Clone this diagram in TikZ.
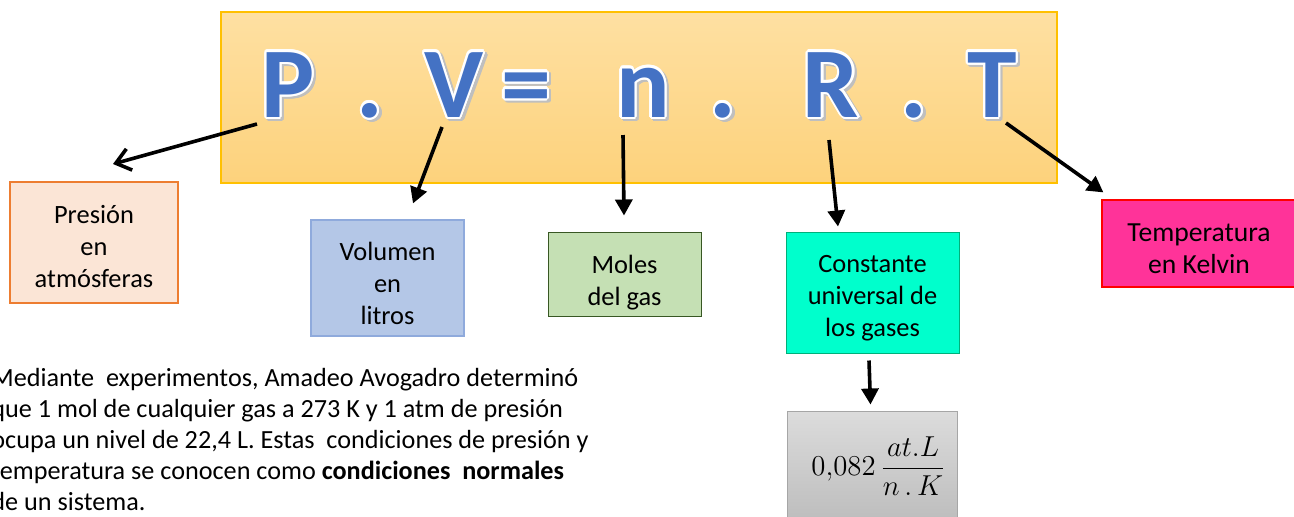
\documentclass[tikz,border=0pt]{standalone}
\usepackage{fontspec}
\setmainfont{Carlito}
\usepackage{contour}
\contourlength{1.1pt}
\usetikzlibrary{arrows.meta,positioning}

\definecolor{eqblue}{HTML}{4472C4}
\definecolor{eqtop}{HTML}{FEE0A2}
\definecolor{eqbot}{HTML}{FDD27C}
\definecolor{eqedge}{HTML}{FFC000}
\definecolor{presfill}{HTML}{FBE5D6}
\definecolor{presedge}{HTML}{ED7D31}
\definecolor{volfill}{HTML}{B4C7E7}
\definecolor{voledge}{HTML}{8FAADC}
\definecolor{molfill}{HTML}{C5E0B4}
\definecolor{moledge}{HTML}{385723}
\definecolor{consfill}{HTML}{00FFCC}
\definecolor{consedge}{HTML}{00B07A}
\definecolor{tempfill}{HTML}{FF3399}
\definecolor{tempedge}{HTML}{FF0000}
\definecolor{rtop}{HTML}{DCDCDC}
\definecolor{rbot}{HTML}{BDBDBD}

% big letter with white rim and soft shadow
\newcommand{\eqglyph}[1]{%
  \makebox[0pt][l]{\hspace{1.2pt}\raisebox{-1.2pt}{\color{black!25}\contour{black!25}{#1}}}%
  {\color{eqblue}\contour{white}{#1}}}
% push box text down a little
\newcommand{\tg}[1]{\rule{0pt}{#1}}

\begin{document}
\begin{tikzpicture}[x=0.5pt,y=-0.5pt,
  every node/.style={text centered, align=center, inner sep=0pt, font=\fontsize{13.2}{16}\selectfont},
  eq_letter/.style={anchor=base, font=\fontsize{50}{50}\selectfont\bfseries},
  box_pres/.style={draw=presedge, line width=1pt, fill=presfill, minimum width=84pt, minimum height=60.5pt},
  box_vol/.style={draw=voledge, line width=0.6pt, fill=volfill, minimum width=76.5pt, minimum height=58pt},
  box_mol/.style={draw=moledge, line width=0.5pt, fill=molfill, minimum width=76.5pt, minimum height=42pt},
  box_cons/.style={draw=consedge, line width=0.5pt, fill=consfill, minimum width=86.5pt, minimum height=60.5pt},
  box_temp/.style={draw=tempedge, line width=0.6pt, fill=tempfill, minimum width=97pt, minimum height=43.5pt,
    font=\fontsize{13.8}{16}\selectfont},
  box_r/.style={draw=black!35, line width=0.6pt, top color=rtop, bottom color=rbot, minimum width=85pt, minimum height=55pt},
  open_arrow/.style={line width=1.8pt, -{Straight Barb[length=7pt,width=11pt]}},
  fill_arrow/.style={line width=1.8pt, -{Triangle[length=8pt,width=8.5pt]}}
]
\useasboundingbox (0,0) rectangle (1294,516);

% Equation banner
\node[draw=eqedge, line width=0.6pt, top color=eqtop, bottom color=eqbot,
  minimum width=418pt, minimum height=85.5pt] (banner) at (639,97.5) {};
\foreach \x/\g/\nm in {288/P/lP, 370/./d1, 454/V/lV, 526/=/eq, 643/n/ln,
                       723/./d2, 831/R/lR, 914/./d3, 992/T/lT}
  \node[eq_letter] (\nm) at (\x,117) {\eqglyph{\g}};

% Boxes
\node[box_pres] (pres) at (94,242.5) {\tg{12.8pt}Presión\\en\\atmósferas};
\node[box_vol] (vol) at (387.5,278) {\tg{14.5pt}Volumen\\en\\litros};
\node[box_mol] (mol) at (624.5,274) {\tg{18pt}Moles\\del gas};
\node[box_cons] (cons) at (872.5,292.5) {\tg{14.5pt}Constante\\universal de\\los gases};
\node[box_temp] (temp) at (1199,243.5) {\tg{14.5pt}Temperatura\\en Kelvin};
\node[box_r, below=28.5pt of cons] (rval)
  {\makebox[60pt]{\hspace*{6pt}\fontsize{14.5}{17}\selectfont $\displaystyle 0{,}082\,\frac{at.L}{n\,.\,K}$}};

% Arrow start points
\coordinate (sP) at (257,124);
\coordinate (sV) at (442,127);
\coordinate (sn) at (623,135);
\coordinate (sR) at (829,140);
\coordinate (sT) at (1006,123);

% Arrows
\draw[open_arrow] (sP) -- ([shift={(19,-17)}]pres.north);
\draw[fill_arrow] (sV) -- ([shift={(25.5,-16)}]vol.north);
\draw[fill_arrow] (sn) -- ([shift={(-0.5,-16)}]mol.north);
\draw[fill_arrow] (sR) -- ([shift={(-34.5,-5)}]cons.north);
\draw[fill_arrow] (sT) -- ([shift={(2,-7)}]temp.north west);
\draw[fill_arrow] ([shift={(-3.5,7)}]cons.south) -- ([shift={(-2,-6)}]rval.north);

% Note
\node[anchor=north west, align=left, font=\fontsize{13.1}{15.5}\selectfont] (note) at (-9,368)
  {Mediante\ \ experimentos, Amadeo Avogadro determinó\\
   que 1 mol de cualquier gas a 273 K y 1 atm de presión\\
   ocupa un nivel de 22,4 L. Estas\ \ condiciones de presión y\\
   temperatura se conocen como \textbf{condiciones\ \ normales}\\
   de un sistema.};
\end{tikzpicture}
\end{document}
